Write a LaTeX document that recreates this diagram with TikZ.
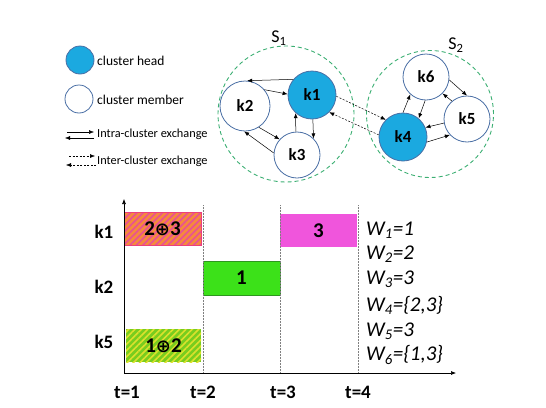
\documentclass[tikz,border=0pt]{standalone}
\usepackage{fontspec}
\setmainfont{Carlito}
\newfontfamily\symfont{DejaVu Sans}
\usetikzlibrary{arrows.meta,patterns.meta}
\definecolor{headfill}{RGB}{27,169,224}
\definecolor{nodeline}{RGB}{74,111,165}
\definecolor{clgreen}{RGB}{60,175,115}
\definecolor{orng}{RGB}{245,138,60}
\definecolor{pinkst}{RGB}{232,80,150}
\definecolor{ygreen}{RGB}{120,205,30}
\definecolor{yellst}{RGB}{220,225,45}
\definecolor{bgreen}{RGB}{60,225,25}
\definecolor{bgreenline}{RGB}{45,150,30}
\definecolor{magbox}{RGB}{240,85,220}
\newcommand{\opl}{{\symfont\fontsize{18}{18}\selectfont ⊕}}
\tikzset{
  headnode/.style={circle,draw=nodeline,fill=headfill,line width=0.8pt,inner sep=0pt,font=\bfseries\fontsize{17}{17}\selectfont},
  membernode/.style={circle,draw=nodeline,fill=white,line width=0.8pt,inner sep=0pt,font=\bfseries\fontsize{17}{17}\selectfont},
  cluster/.style={circle,draw=clgreen,dashed,line width=0.9pt,dash pattern=on 4pt off 3pt},
  intra/.style={-{Latex[length=5pt,width=4pt]},line width=0.5pt},
  inter/.style={-{Latex[length=5pt,width=4pt]},line width=0.5pt,dash pattern=on 2pt off 1.5pt},
  legtext/.style={anchor=west,inner sep=0pt,font=\fontsize{13.5}{14}\selectfont},
  legsmall/.style={anchor=west,inner sep=0pt,font=\fontsize{12.3}{13}\selectfont},
  tlabel/.style={inner sep=0pt,font=\bfseries\fontsize{19}{19}\selectfont},
  boxtext/.style={font=\bfseries\fontsize{21}{21}\selectfont},
  wlabel/.style={anchor=west,inner sep=0pt,font=\itshape\fontsize{21}{21}\selectfont},
  gridline/.style={gray,densely dotted,line width=0.5pt},
}
\begin{document}
\begin{tikzpicture}[x=1pt,y=-1pt]
\useasboundingbox (0,0) rectangle (546,407);
% legend
\node[headnode,minimum size=28pt] (lh) at (80,60) {};
\node[legtext] (lht) at (97,61) {cluster head};
\node[membernode,minimum size=28pt] (lm) at (79,99) {};
\node[legtext] (lmt) at (97,100) {cluster member};
\coordinate (ia1) at (67,132); \coordinate (ia2) at (94,132);
\coordinate (ib1) at (94,138); \coordinate (ib2) at (65,138);
\draw[intra] (ia1) -- (ia2);
\draw[intra] (ib1) -- (ib2);
\node[legsmall] (it) at (97,134) {Intra-cluster exchange};
\coordinate (ea1) at (69,156); \coordinate (ea2) at (95,156);
\coordinate (eb1) at (96,165); \coordinate (eb2) at (66,165);
\draw[inter] (ea1) -- (ea2);
\draw[inter] (eb1) -- (eb2);
\node[legsmall] (et) at (97,161) {Inter-cluster exchange};
% clusters
\node[cluster,minimum size=136pt] (S1c) at (286,114) {};
\node[cluster,minimum size=127pt] (S2c) at (430,114) {};
\node[font=\fontsize{18}{18}\selectfont] (S1) at (279,38) {S\textsubscript{1}};
\node[font=\fontsize{18}{18}\selectfont] (S2) at (456,45) {S\textsubscript{2}};
% nodes
\node[headnode,minimum size=48pt] (k1) at (312,95) {k1};
\node[membernode,minimum size=50pt] (k2) at (245,106) {k2};
\node[membernode,minimum size=46pt] (k3) at (297,155) {k3};
\node[headnode,minimum size=48pt] (k4) at (403,137) {k4};
\node[membernode,minimum size=46pt] (k5) at (467,119) {k5};
\node[membernode,minimum size=46pt] (k6) at (426,77) {k6};
% intra S1
\draw[intra] (k1.140) -- (k2.85);
\draw[intra] (k2.40) -- (k1.178);
\draw[intra] (k2.-57) -- (k3.138);
\draw[intra] (k3.175) -- (k2.-92);
\draw[intra] (k3.93) -- (k1.-132);
\draw[intra] (k1.-88) -- (k3.45);
% inter
\draw[inter] (k1.-3) -- (k4.135);
\draw[inter] (k4.175) -- (k1.-45);
% intra S2
\draw[intra] (k4.90) -- (k6.-132);
\draw[intra] (k6.-92) -- (k4.50);
\draw[intra] (k6.-7) -- (k5.90);
\draw[intra] (k5.130) -- (k6.-45);
\draw[intra] (k5.190) -- (k4.23);
\draw[intra] (k4.-12) -- (k5.-137);
% timeline boxes
\fill[orng] (124,212) rectangle (201,245);
\fill[pattern={Lines[angle=45,distance=4.5pt,line width=1.6pt]},pattern color=pinkst] (124,212) rectangle (201,245);
\draw[pinkst!80!red,line width=0.6pt] (124,212) rectangle (201,245);
\node[boxtext] (b1) at (162.5,229) {2\opl3};
\fill[magbox] (280,214) rectangle (357,247);
\node[boxtext] (b3) at (318.5,231) {3};
\draw[bgreenline,fill=bgreen,line width=0.6pt] (203,261) rectangle (280,295);
\node[boxtext] (b2) at (241.5,278) {1};
\fill[ygreen] (126,329) rectangle (201,362);
\fill[pattern={Lines[angle=45,distance=4.5pt,line width=1.6pt]},pattern color=yellst] (126,329) rectangle (201,362);
\node[boxtext] (b4) at (163.5,346) {1\opl2};
% grid
\coordinate (g2t) at (203,205); \coordinate (g2b) at (203,373);
\coordinate (g3t) at (280,205); \coordinate (g3b) at (280,373);
\coordinate (g4t) at (358,205); \coordinate (g4b) at (358,373);
\draw[gridline] (g2t) -- (g2b);
\draw[gridline] (g3t) -- (g3b);
\draw[gridline] (g4t) -- (g4b);
% axes
\coordinate (org) at (124,373);
\coordinate (ytop) at (124,199);
\coordinate (xend) at (456,373);
\draw[-{Latex[length=5pt,width=4pt]},line width=0.6pt] (org) -- (ytop);
\draw[-{Latex[length=5pt,width=4pt]},line width=0.6pt] (org) -- (xend);
% labels
\node[tlabel] (lk1) at (104,232) {k1};
\node[tlabel] (lk2) at (104,287) {k2};
\node[tlabel] (lk5) at (104,342) {k5};
\node[tlabel] (t1) at (127,392) {t=1};
\node[tlabel] (t2) at (203,392) {t=2};
\node[tlabel] (t3) at (283,392) {t=3};
\node[tlabel] (t4) at (358,392) {t=4};
\node[wlabel] (w1) at (366,230) {W\textsubscript{1}=1};
\node[wlabel] (w2) at (366,254) {W\textsubscript{2}=2};
\node[wlabel] (w3) at (366,279) {W\textsubscript{3}=3};
\node[wlabel] (w4) at (366,305) {W\textsubscript{4}=\{2,3\}};
\node[wlabel] (w5) at (366,331) {W\textsubscript{5}=3};
\node[wlabel] (w6) at (366,355) {W\textsubscript{6}=\{1,3\}};
\end{tikzpicture}
\end{document}
